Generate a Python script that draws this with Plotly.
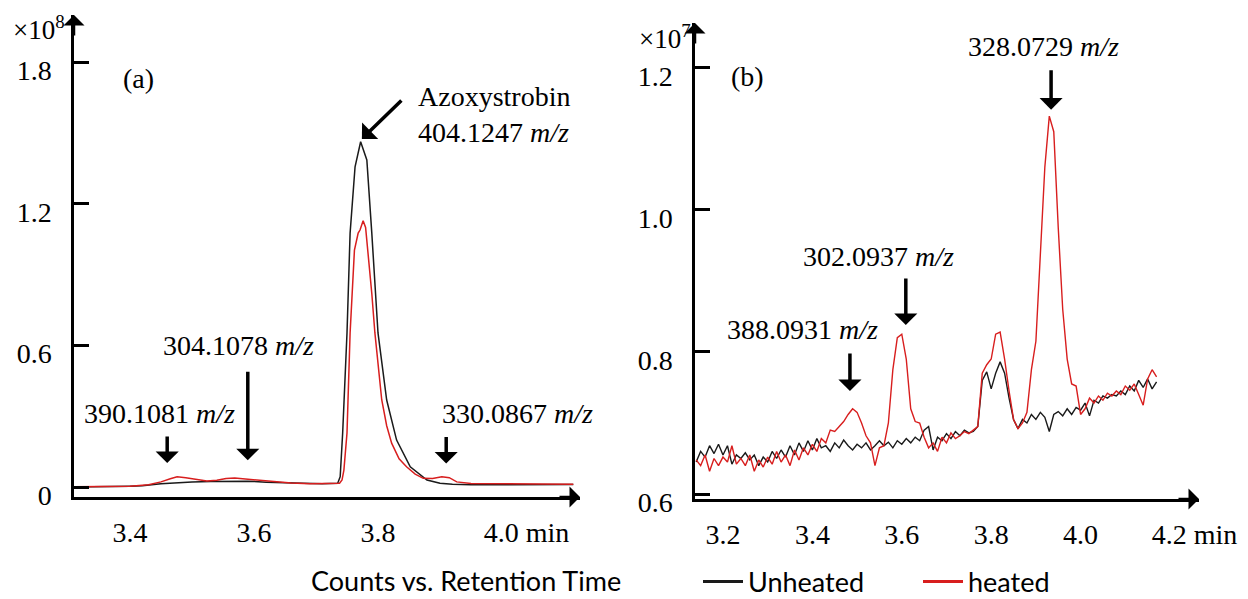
import plotly.graph_objects as go

# ---------------- Panel (a) data (counts x1e8 vs retention time, min) ----------------
a_unheated_t = [3.31, 3.34, 3.37, 3.40, 3.42, 3.45, 3.48, 3.50, 3.53, 3.56, 3.59, 3.62, 3.65, 3.68,
                3.71, 3.735, 3.739, 3.743, 3.750, 3.755, 3.763, 3.772, 3.778, 3.782, 3.790, 3.800,
                3.814, 3.830, 3.852, 3.879, 3.90, 3.92, 3.95, 3.98, 4.01, 4.05, 4.08, 4.115]
a_unheated_y = [0.000, 0.000, 0.002, 0.004, 0.006, 0.014, 0.019, 0.022, 0.024, 0.026, 0.025, 0.021,
                0.018, 0.015, 0.014, 0.016, 0.044, 0.229, 0.653, 1.076, 1.357, 1.463, 1.420, 1.386,
                1.076, 0.653, 0.369, 0.199, 0.086, 0.030, 0.016, 0.012, 0.010, 0.010, 0.010, 0.011,
                0.011, 0.011]

a_heated_t = [3.31, 3.34, 3.37, 3.40, 3.43, 3.45, 3.465, 3.476, 3.49, 3.51, 3.524, 3.54, 3.555, 3.569,
              3.585, 3.60, 3.63, 3.66, 3.69, 3.72, 3.738, 3.742, 3.745, 3.750, 3.755, 3.762, 3.768,
              3.771, 3.776, 3.780, 3.784, 3.790, 3.795, 3.800, 3.806, 3.814, 3.822, 3.834, 3.846,
              3.860, 3.873, 3.888, 3.903, 3.915, 3.927, 3.95, 3.98, 4.01, 4.05, 4.08, 4.115]
a_heated_y = [0.001, 0.002, 0.001, 0.004, 0.010, 0.022, 0.035, 0.044, 0.040, 0.032, 0.026, 0.029,
              0.036, 0.038, 0.034, 0.030, 0.022, 0.017, 0.014, 0.014, 0.016, 0.030, 0.072, 0.229,
              0.653, 1.004, 1.076, 1.089, 1.128, 1.100, 1.000, 0.820, 0.653, 0.520, 0.370, 0.260,
              0.186, 0.120, 0.086, 0.055, 0.037, 0.036, 0.044, 0.040, 0.022, 0.015, 0.014, 0.013,
              0.013, 0.013, 0.012]

# ---------------- Panel (b) data (counts x1e7), one scan every 0.01 min ----------------
b_scan_start = 3.14
b_scan_step = 0.01
b_unheated_y = [0.645, 0.660, 0.652, 0.668, 0.657, 0.670, 0.655, 0.668, 0.642, 0.655,
                0.650, 0.658, 0.648, 0.655, 0.640, 0.652, 0.645, 0.660, 0.650, 0.662,
                0.652, 0.668, 0.655, 0.672, 0.660, 0.675, 0.662, 0.678, 0.665, 0.668,
                0.660, 0.672, 0.665, 0.676, 0.668, 0.662, 0.670, 0.665, 0.672, 0.662,
                0.668, 0.675, 0.668, 0.673, 0.665, 0.675, 0.670, 0.678, 0.672, 0.680,
                0.675, 0.690, 0.695, 0.662, 0.680, 0.675, 0.685, 0.678, 0.688, 0.682,
                0.690, 0.686, 0.688, 0.695, 0.760, 0.772, 0.748, 0.770, 0.786, 0.770,
                0.735, 0.705, 0.692, 0.705, 0.700, 0.712, 0.705, 0.715, 0.708, 0.688,
                0.712, 0.716, 0.710, 0.720, 0.712, 0.722, 0.718, 0.728, 0.710, 0.732,
                0.728, 0.738, 0.735, 0.740, 0.738, 0.745, 0.740, 0.752, 0.745, 0.760,
                0.750, 0.762, 0.748, 0.758]
b_heated_y = [0.648, 0.640, 0.655, 0.632, 0.650, 0.640, 0.652, 0.645, 0.668, 0.642,
              0.650, 0.640, 0.655, 0.632, 0.648, 0.638, 0.652, 0.642, 0.660, 0.645,
              0.655, 0.640, 0.662, 0.648, 0.665, 0.655, 0.670, 0.660, 0.678, 0.672,
              0.690, 0.688, 0.695, 0.702, 0.712, 0.720, 0.715, 0.700, 0.682, 0.672,
              0.640, 0.665, 0.668, 0.700, 0.775, 0.820, 0.825, 0.790, 0.720, 0.702,
              0.700, 0.680, 0.665, 0.672, 0.660, 0.680, 0.672, 0.686, 0.678, 0.682,
              0.688, 0.685, 0.690, 0.695, 0.770, 0.782, 0.790, 0.825, 0.828, 0.790,
              0.745, 0.705, 0.692, 0.700, 0.715, 0.775, 0.815, 0.930, 1.060, 1.132,
              1.110, 0.975, 0.860, 0.790, 0.755, 0.752, 0.712, 0.720, 0.735, 0.728,
              0.738, 0.732, 0.742, 0.738, 0.745, 0.740, 0.752, 0.746, 0.755, 0.740,
              0.725, 0.762, 0.775, 0.765]
b_t = [round(b_scan_start + i * b_scan_step, 3) for i in range(len(b_unheated_y))]

# ---------------- ticks ----------------
a_tickvals_x = [3.4, 3.6, 3.8, 4.0]
a_ticktext_x = ["3.4", "3.6", "3.8", "\u00a0" * 7 + "4.0 min"]
a_tickvals_y = [0, 0.6, 1.2, 1.8]
a_ticktext_y = ["0", "0.6", "1.2", "1.8"]
b_tickvals_x = [3.2, 3.4, 3.6, 3.8, 4.0, 4.2]
b_ticktext_x = ["3.2", "3.4", "3.6", "3.8", "4.0", "\u00a0" * 7 + "4.2 min"]
b_tickvals_y = [0.6, 0.8, 1.0, 1.2]
b_ticktext_y = ["0.6", "0.8", "1.0", "1.2"]

BLACK = "#1a1a1a"
RED = "#d81e1e"
SERIF = "Liberation Serif, Times New Roman, serif"
SANS = "Lato, Open Sans, sans-serif"

W, H = 1248, 599


def sx(p):  # window pixel -> paper x
    return p / W


def sy(p):  # window pixel -> paper y
    return 1 - p / H


fig = go.Figure()
fig.add_trace(go.Scatter(x=a_unheated_t, y=a_unheated_y, mode="lines", name="Unheated", showlegend=False,
                         line=dict(color=BLACK, width=1.5), xaxis="x", yaxis="y"))
fig.add_trace(go.Scatter(x=a_heated_t, y=a_heated_y, mode="lines", name="heated", showlegend=False,
                         line=dict(color=RED, width=1.5), xaxis="x", yaxis="y"))
fig.add_trace(go.Scatter(x=b_t, y=b_unheated_y, mode="lines", name="Unheated", showlegend=False,
                         line=dict(color=BLACK, width=1.4), xaxis="x2", yaxis="y2"))
fig.add_trace(go.Scatter(x=b_t, y=b_heated_y, mode="lines", name="heated", showlegend=False,
                         line=dict(color=RED, width=1.4), xaxis="x2", yaxis="y2"))
# legend entries (thicker swatches, as in the reference key)
fig.add_trace(go.Scatter(x=[None], y=[None], mode="lines", name="Unheated",
                         line=dict(color=BLACK, width=3), xaxis="x", yaxis="y"))
fig.add_trace(go.Scatter(x=[None], y=[None], mode="lines", name="heated",
                         line=dict(color=RED, width=3), xaxis="x", yaxis="y"))

common_x = dict(showgrid=False, zeroline=False, showline=True, linecolor="black", linewidth=2.5,
                ticks="", tickfont=dict(family=SERIF, size=28, color="black"),
                ticklabelstandoff=9, automargin=False, fixedrange=True)
common_y = dict(showgrid=False, zeroline=False, showline=True, linecolor="black", linewidth=2.5,
                ticks="inside", ticklen=15, tickwidth=2.5, tickcolor="black",
                tickfont=dict(family=SERIF, size=28, color="black"),
                ticklabelstandoff=14, ticklabelshift=8, automargin=False, fixedrange=True)

fig.update_layout(
    width=W, height=H,
    margin=dict(l=0, r=0, t=0, b=0, autoexpand=False),
    paper_bgcolor="white", plot_bgcolor="white",
    xaxis=dict(domain=[sx(74), sx(580)], range=[3.3097, 4.1258], anchor="y",
               tickvals=a_tickvals_x, ticktext=a_ticktext_x, **common_x),
    yaxis=dict(domain=[sy(497), sy(15)], range=[-0.042, 2.0], anchor="x",
               tickvals=a_tickvals_y, ticktext=a_ticktext_y, **common_y),
    xaxis2=dict(domain=[sx(695), sx(1199)], range=[3.1374, 4.2649], anchor="y2",
                tickvals=b_tickvals_x, ticktext=b_ticktext_x, **common_x),
    yaxis2=dict(domain=[sy(499), sy(23)], range=[0.593, 1.263], anchor="x2",
                tickvals=b_tickvals_y, ticktext=b_ticktext_y, **common_y),
    legend=dict(orientation="h", x=sx(698), xanchor="left", y=sy(582), yanchor="middle",
                font=dict(family=SANS, size=27, color="black"), bgcolor="rgba(0,0,0,0)",
                itemwidth=40, entrywidth=165, entrywidthmode="pixels"),
    showlegend=True,
)

ann = []
# axis arrowheads
for xr, yr in (("x", "y"), ("x2", "y2")):
    ann.append(dict(xref=f"{xr} domain", yref=f"{yr} domain", x=0, y=1, ax=0, ay=22,
                    showarrow=True, arrowhead=1, arrowsize=1.4, arrowwidth=2.5, arrowcolor="black",
                    text="", font=dict(size=1)))
    ann.append(dict(xref=f"{xr} domain", yref=f"{yr} domain", x=1, y=0, ax=-22, ay=0,
                    showarrow=True, arrowhead=1, arrowsize=1.4, arrowwidth=2.5, arrowcolor="black",
                    text="", font=dict(size=1)))
# exponent labels
ann.append(dict(xref="paper", yref="paper", x=sx(67), y=sy(28), xanchor="right", yanchor="middle",
                text="\u00d710<sup>8</sup>", showarrow=False, font=dict(family=SERIF, size=27, color="black")))
ann.append(dict(xref="paper", yref="paper", x=sx(693), y=sy(37), xanchor="right", yanchor="middle",
                text="\u00d710<sup>7</sup>", showarrow=False, font=dict(family=SERIF, size=27, color="black")))


def label(xr, yr, x, y, text, xanchor="center", align="center"):
    ann.append(dict(xref=xr, yref=yr, x=x, y=y, text=text, showarrow=False, xanchor=xanchor,
                    yanchor="middle", align=align, font=dict(family=SERIF, size=28, color="black")))


def arrow(xr, yr, x, y, ax, ay, width=3.5, size=1.1):
    ann.append(dict(xref=xr, yref=yr, x=x, y=y, ax=ax, ay=ay, text="", showarrow=True,
                    arrowhead=1, arrowsize=size, arrowwidth=width, arrowcolor="black",
                    font=dict(size=1)))


# panel (a)
label("x", "y", 3.413, 1.733, "(a)")
label("x", "y", 3.862, 1.58, "Azoxystrobin<br>404.1247 <i>m/z</i>", xanchor="left", align="left")
arrow("x", "y", 3.774, 1.475, 41, -40)
label("x", "y", 3.45, 0.60, "304.1078 <i>m/z</i>", xanchor="left")
arrow("x", "y", 3.590, 0.114, 0, -90)
label("x", "y", 3.448, 0.31, "390.1081 <i>m/z</i>")
arrow("x", "y", 3.460, 0.102, 0, -28)
label("x", "y", 3.900, 0.31, "330.0867 <i>m/z</i>", xanchor="left")
arrow("x", "y", 3.910, 0.100, 0, -28)
# panel (b)
label("x2", "y2", 3.254, 1.187, "(b)")
label("x2", "y2", 3.918, 1.230, "328.0729 <i>m/z</i>")
arrow("x2", "y2", 3.934, 1.141, 0, -41)
label("x2", "y2", 3.548, 0.935, "302.0937 <i>m/z</i>")
arrow("x2", "y2", 3.609, 0.838, 0, -48)
label("x2", "y2", 3.378, 0.832, "388.0931 <i>m/z</i>")
arrow("x2", "y2", 3.484, 0.745, 0, -39)
# caption
ann.append(dict(xref="paper", yref="paper", x=sx(466), y=0, xanchor="center", yanchor="bottom",
                text="Counts vs. Retention Time", showarrow=False,
                font=dict(family=SANS, size=27, color="black")))

fig.update_layout(annotations=ann)
# let the 1248x599 figure fill the window exactly (no default page margin)
fig.write_html("out.html", config=dict(displayModeBar=False),
               post_script="document.body.style.margin='0px';document.body.style.overflow='hidden';")
